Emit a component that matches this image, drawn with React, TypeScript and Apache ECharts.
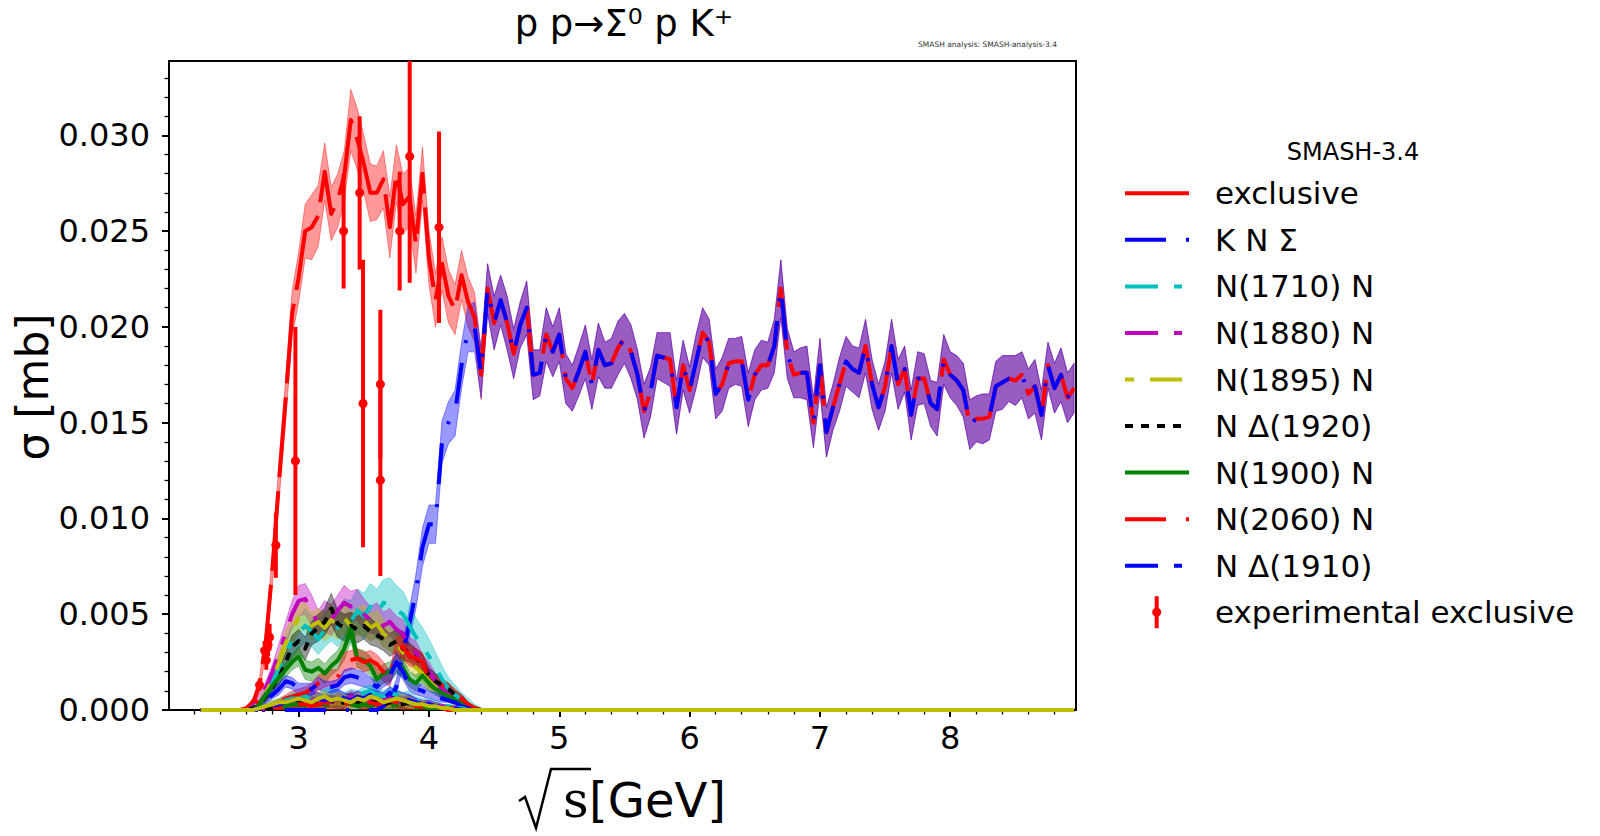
import React, { useEffect, useRef } from "react";
import * as echarts from "echarts";

// ---------- DATA ----------
const energyLow = [2.25, 2.30, 2.35, 2.40, 2.45, 2.50, 2.55, 2.60, 2.65, 2.70, 2.75, 2.80, 2.85, 2.90, 2.95, 3.00, 3.05, 3.10, 3.15, 3.20, 3.25, 3.30, 3.35, 3.40, 3.45, 3.50, 3.55, 3.60, 3.65, 3.70, 3.75, 3.80, 3.85, 3.90, 3.95, 4.00, 4.05, 4.10, 4.15, 4.20, 4.25, 4.30, 4.35, 4.40];
const energyHigh = [
  4.45, 4.50, 4.55, 4.60, 4.65, 4.70, 4.75, 4.80, 4.85, 4.90,
  4.95, 5.00, 5.05, 5.10, 5.15, 5.20, 5.25, 5.30, 5.35, 5.40,
  5.45, 5.50, 5.55, 5.60, 5.65, 5.70, 5.75, 5.80, 5.85, 5.90,
  5.95, 6.00, 6.05, 6.10, 6.15, 6.20, 6.25, 6.30, 6.35, 6.40,
  6.45, 6.50, 6.55, 6.60, 6.65, 6.70, 6.75, 6.80, 6.85, 6.90,
  6.95, 7.00, 7.05, 7.10, 7.15, 7.20, 7.25, 7.30, 7.35, 7.40,
  7.45, 7.50, 7.55, 7.60, 7.65, 7.70, 7.75, 7.80, 7.85, 7.90,
  7.95, 8.00, 8.05, 8.10, 8.15, 8.20, 8.25, 8.30, 8.35, 8.40,
  8.45, 8.50, 8.55, 8.60, 8.65, 8.70, 8.75, 8.80, 8.85, 8.90,
  8.95,
];

const exclusiveLow = [0, 0, 0, 0, 0, 0, 0,
  0.0001, 0.0004, 0.0013, 0.0037, 0.0075, 0.0120, 0.0162, 0.0207, 0.0226, 0.0250,
  0.0252, 0.0258, 0.0281, 0.0259, 0.0266, 0.0279, 0.0308, 0.0298, 0.0285, 0.0270,
  0.0270, 0.0277, 0.0252, 0.0280, 0.0264, 0.0268, 0.0243, 0.0280, 0.0236, 0.0214,
  0.0233, 0.0216, 0.0209, 0.0227, 0.0213, 0.0205, 0.0175];
const exclusiveLowErr = [0, 0, 0, 0, 0, 0, 0,
  0.0001, 0.0002, 0.0004, 0.0006, 0.0008, 0.0010, 0.0011, 0.0012, 0.0013, 0.0014,
  0.0017, 0.0016, 0.0015, 0.0014, 0.0014, 0.0013, 0.0016, 0.0016, 0.0015, 0.0015,
  0.0014, 0.0015, 0.0016, 0.0015, 0.0016, 0.0015, 0.0015, 0.0014, 0.0014, 0.0014,
  0.0014, 0.0014, 0.0013, 0.0013, 0.0013, 0.0013, 0.0013];
const knSigmaLow = [0, 0, 0, 0, 0, 0, 0, 0, 0, 0, 0, 0, 0, 0, 0, 0, 0, 0, 0, 0, 0, 0, 0, 0, 0, 0, 0, 0,
  0.0002, 0.0005, 0.0012, 0.0030, 0.0045, 0.0062, 0.0085, 0.0097, 0.0097, 0.0140,
  0.0150, 0.0155, 0.0180, 0.0199, 0.0200, 0.0176];
const knSigmaLowErr = [0, 0, 0, 0, 0, 0, 0, 0, 0, 0, 0, 0, 0, 0, 0, 0, 0, 0, 0, 0, 0, 0, 0, 0, 0, 0, 0, 0,
  0.0001, 0.0002, 0.0004, 0.0006, 0.0008, 0.0009, 0.0010, 0.0010, 0.0010, 0.0011,
  0.0011, 0.0012, 0.0012, 0.0012, 0.0013, 0.0013];
// above ~4.4 GeV the exclusive cross section equals the K N Sigma one
const sharedHigh = [
  0.0220, 0.0202, 0.0214, 0.0202, 0.0186, 0.0201, 0.0210, 0.0175, 0.0176, 0.0196,
  0.0187, 0.0196, 0.0173, 0.0168, 0.0177, 0.0187, 0.0170, 0.0188, 0.0180, 0.0181,
  0.0189, 0.0194, 0.0187, 0.0175, 0.0156, 0.0166, 0.0185, 0.0184, 0.0183, 0.0158,
  0.0180, 0.0167, 0.0182, 0.0197, 0.0192, 0.0165, 0.0170, 0.0181, 0.0182, 0.0182,
  0.0162, 0.0175, 0.0180, 0.0180, 0.0190, 0.0220, 0.0186, 0.0175, 0.0176, 0.0176,
  0.0150, 0.0180, 0.0145, 0.0158, 0.0170, 0.0182, 0.0178, 0.0176, 0.0190, 0.0170,
  0.0158, 0.0169, 0.0190, 0.0170, 0.0178, 0.0154, 0.0173, 0.0173, 0.0160, 0.0157,
  0.0183, 0.0175, 0.0172, 0.0167, 0.0149, 0.0152, 0.0152, 0.0153, 0.0169, 0.0171,
  0.0173, 0.0172, 0.0175, 0.0165, 0.0169, 0.0154, 0.0180, 0.0168, 0.0175, 0.0163,
  0.0168,
];
const sharedHighErr = [
  0.0013, 0.0014, 0.0013, 0.0014, 0.0013, 0.0012, 0.0014, 0.0013, 0.0012, 0.0014,
  0.0013, 0.0014, 0.0013, 0.0012, 0.0013, 0.0014, 0.0013, 0.0014, 0.0012, 0.0013,
  0.0014, 0.0013, 0.0014, 0.0013, 0.0014, 0.0013, 0.0012, 0.0013, 0.0014, 0.0014,
  0.0013, 0.0012, 0.0014, 0.0013, 0.0012, 0.0013, 0.0014, 0.0013, 0.0012, 0.0013,
  0.0014, 0.0013, 0.0013, 0.0012, 0.0014, 0.0015, 0.0013, 0.0012, 0.0013, 0.0014,
  0.0013, 0.0014, 0.0013, 0.0012, 0.0014, 0.0013, 0.0012, 0.0013, 0.0014, 0.0013,
  0.0012, 0.0013, 0.0014, 0.0013, 0.0012, 0.0013, 0.0014, 0.0013, 0.0012, 0.0014,
  0.0013, 0.0012, 0.0013, 0.0014, 0.0013, 0.0012, 0.0013, 0.0012, 0.0013, 0.0014,
  0.0012, 0.0013, 0.0012, 0.0013, 0.0014, 0.0013, 0.0012, 0.0013, 0.0014, 0.0013,
  0.0013,
];

// resonance channels: energies 2.25, 2.55 ... 4.50 (step 0.05), 8.95
const channelEnergy = [2.25, 2.55, 2.60, 2.65, 2.70, 2.75, 2.80, 2.85, 2.90, 2.95, 3.00, 3.05, 3.10, 3.15, 3.20, 3.25, 3.30, 3.35, 3.40, 3.45, 3.50, 3.55, 3.60, 3.65, 3.70, 3.75, 3.80, 3.85, 3.90, 3.95, 4.00, 4.05, 4.10, 4.15, 4.20, 4.25, 4.30, 4.35, 4.40, 4.45, 4.50, 8.95];

const n1710 = [0, 0, 0, .0001, .0004, .0009, .0015, .0022, .0030, .0036, .0040, .0044, .0041, .0037, .0042, .0045, .0043, .0048, .0046, .0052, .0049, .0054, .0050, .0056, .0055, .0052, .0050, .0044, .0038, .0033, .0028, .0022, .0016, .0011, .0008, .0005, .0003, .0001, 0, 0, 0, 0];
const n1710Err = [0, 0, 0, .0001, .0002, .0003, .0005, .0006, .0007, .0008, .0008, .0009, .0008, .0008, .0009, .0009, .0010, .0010, .0011, .0011, .0012, .0012, .0013, .0012, .0014, .0013, .0012, .0011, .0010, .0010, .0009, .0008, .0007, .0006, .0005, .0004, .0003, .0002, .0001, 0, 0, 0];
const n1880 = [0, 0, 0, .0002, .0006, .0012, .0020, .0030, .0040, .0050, .0057, .0058, .0052, .0045, .0049, .0047, .0052, .0056, .0054, .0055, .0050, .0047, .0048, .0044, .0046, .0042, .0040, .0032, .0030, .0024, .0020, .0015, .0011, .0008, .0005, .0003, .0002, .0001, 0, 0, 0, 0];
const n1880Err = [0, 0, 0, .0001, .0002, .0003, .0004, .0005, .0006, .0007, .0008, .0008, .0008, .0007, .0008, .0008, .0008, .0009, .0008, .0008, .0008, .0007, .0008, .0007, .0007, .0007, .0007, .0006, .0006, .0005, .0005, .0004, .0004, .0003, .0003, .0002, .0002, .0001, 0, 0, 0, 0];
const n1895 = [0, 0, 0, .0001, .0004, .0009, .0016, .0025, .0035, .0042, .0048, .0049, .0044, .0046, .0043, .0047, .0044, .0048, .0044, .0046, .0047, .0043, .0045, .0040, .0037, .0035, .0030, .0026, .0022, .0019, .0015, .0012, .0009, .0006, .0004, .0002, .0001, 0, 0, 0, 0, 0];
const n1895Err = [0, 0, 0, .0001, .0002, .0003, .0004, .0005, .0006, .0007, .0007, .0007, .0007, .0007, .0007, .0008, .0007, .0008, .0007, .0007, .0008, .0007, .0007, .0007, .0006, .0006, .0006, .0005, .0005, .0004, .0004, .0003, .0003, .0002, .0002, .0001, .0001, 0, 0, 0, 0, 0];
const nD1920 = [0, 0, 0, .0001, .0003, .0007, .0012, .0017, .0025, .0033, .0036, .0032, .0040, .0043, .0046, .0053, .0045, .0043, .0044, .0042, .0044, .0041, .0039, .0037, .0034, .0036, .0032, .0030, .0027, .0024, .0018, .0015, .0013, .0011, .0008, .0006, .0003, .0001, 0, 0, 0, 0];
const nD1920Err = [0, 0, 0, .0001, .0002, .0003, .0004, .0004, .0005, .0006, .0006, .0006, .0006, .0007, .0007, .0008, .0007, .0007, .0007, .0007, .0007, .0007, .0006, .0006, .0006, .0006, .0006, .0005, .0005, .0005, .0004, .0004, .0003, .0003, .0002, .0002, .0001, .0001, 0, 0, 0, 0];
const n1900 = [0, 0, 0, 0, .0003, .0008, .0013, .0017, .0021, .0025, .0028, .0021, .0020, .0022, .0019, .0023, .0026, .0032, .0042, .0027, .0026, .0023, .0016, .0019, .0020, .0024, .0022, .0016, .0014, .0018, .0014, .0011, .0009, .0007, .0005, .0003, .0001, 0, 0, 0, 0, 0];
const n1900Err = [0, 0, 0, 0, .0001, .0002, .0003, .0003, .0004, .0004, .0005, .0005, .0005, .0005, .0005, .0005, .0005, .0006, .0006, .0005, .0005, .0005, .0005, .0005, .0005, .0005, .0005, .0004, .0004, .0004, .0004, .0003, .0003, .0002, .0002, .0001, .0001, 0, 0, 0, 0, 0];
const n2060 = [0, 0, 0, 0, 0, .0001, .0002, .0004, .0006, .0007, .0008, .0009, .0011, .0014, .0016, .0017, .0017, .0025, .0026, .0027, .0025, .0026, .0024, .0020, .0016, .0032, .0033, .0028, .0027, .0025, .0016, .0014, .0013, .0011, .0009, .0006, .0003, .0001, 0, 0, 0, 0];
const n2060Err = [0, 0, 0, 0, 0, .0001, .0001, .0002, .0002, .0003, .0003, .0003, .0003, .0004, .0004, .0004, .0004, .0005, .0005, .0005, .0005, .0005, .0005, .0005, .0004, .0006, .0006, .0005, .0005, .0005, .0004, .0004, .0003, .0003, .0002, .0002, .0001, .0001, 0, 0, 0, 0];
const nD1910 = [0, 0, 0, 0, .0002, .0005, .0008, .0011, .0015, .0014, .0011, .0011, .0011, .0014, .0012, .0012, .0013, .0017, .0018, .0017, .0016, .0014, .0012, .0016, .0018, .0025, .0020, .0013, .0011, .0010, .0008, .0007, .0006, .0005, .0004, .0002, .0001, 0, 0, 0, 0, 0];
const nD1910Err = [0, 0, 0, 0, .0001, .0002, .0002, .0003, .0003, .0003, .0003, .0003, .0003, .0003, .0003, .0003, .0003, .0004, .0004, .0004, .0004, .0003, .0003, .0004, .0004, .0005, .0004, .0003, .0003, .0003, .0002, .0002, .0002, .0001, .0001, .0001, .0001, 0, 0, 0, 0, 0];

// smaller channels that are not listed in the legend
const minorA = [0, 0, 0, 0, .0001, .0002, .0003, .0004, .0005, .0006, .0006, .0007, .0005, .0006, .0008, .0009, .0007, .0006, .0008, .0007, .0009, .0010, .0008, .0007, .0009, .0008, .0006, .0007, .0005, .0004, .0004, .0003, .0002, .0002, .0001, .0001, 0, 0, 0, 0, 0, 0];
const minorB = [0, 0, 0, 0, .0001, .0001, .0002, .0003, .0003, .0004, .0005, .0004, .0005, .0006, .0005, .0004, .0006, .0005, .0007, .0006, .0005, .0006, .0004, .0005, .0006, .0005, .0004, .0005, .0004, .0003, .0003, .0002, .0002, .0001, .0001, 0, 0, 0, 0, 0, 0, 0];
const minorC = [0, 0, 0, 0, 0, .0001, .0001, .0002, .0003, .0003, .0004, .0005, .0004, .0003, .0004, .0005, .0003, .0004, .0006, .0004, .0003, .0004, .0005, .0003, .0004, .0003, .0003, .0004, .0002, .0002, .0002, .0001, .0001, .0001, 0, 0, 0, 0, 0, 0, 0, 0];
const minorD = [0, 0, 0, 0, 0, .0001, .0001, .0002, .0002, .0003, .0003, .0002, .0003, .0004, .0003, .0002, .0003, .0004, .0003, .0002, .0003, .0002, .0003, .0002, .0002, .0003, .0002, .0002, .0001, .0002, .0001, .0001, .0001, 0, 0, 0, 0, 0, 0, 0, 0, 0];
const minorF = [0, 0, 0, 0, 0, 0, .0001, .0001, .0002, .0002, .0003, .0003, .0002, .0003, .0004, .0003, .0002, .0003, .0004, .0005, .0003, .0004, .0003, .0004, .0005, .0004, .0003, .0003, .0002, .0002, .0002, .0001, .0001, 0, 0, 0, 0, 0, 0, 0, 0, 0];
const minorG = [0, 0, 0, 0, 0, .0001, .0002, .0003, .0004, .0005, .0006, .0005, .0007, .0006, .0005, .0007, .0008, .0006, .0005, .0007, .0006, .0008, .0007, .0006, .0009, .0007, .0006, .0005, .0004, .0003, .0003, .0002, .0002, .0001, .0001, 0, 0, 0, 0, 0, 0, 0];
const minorE = [0, 0, 0, 0, .0001, .0002, .0003, .0004, .0004, .0005, .0006, .0005, .0004, .0006, .0007, .0005, .0006, .0005, .0004, .0006, .0005, .0007, .0006, .0004, .0005, .0006, .0005, .0004, .0003, .0003, .0002, .0002, .0001, .0001, 0, 0, 0, 0, 0, 0, 0, 0];
const minorErr = [0, 0, 0, 0, .0001, .0001, .0002, .0002, .0002, .0003, .0003, .0003, .0003, .0003, .0003, .0003, .0003, .0003, .0003, .0003, .0003, .0003, .0003, .0003, .0003, .0003, .0003, .0003, .0002, .0002, .0002, .0002, .0001, .0001, .0001, .0001, 0, 0, 0, 0, 0, 0];

// experimental exclusive data
const expEnergy = [2.662, 2.700, 2.739, 2.752, 2.765, 2.777, 2.825, 2.975, 3.345, 3.468, 3.494, 3.627, 3.627, 3.775, 3.852, 4.077];
const expSigma = [0.00035, 0.0013, 0.0031, 0.0026, 0.0034, 0.0038, 0.0086, 0.0130, 0.0250, 0.0270, 0.0160, 0.0170, 0.0120, 0.0250, 0.0289, 0.0252];
const expError = [0.0002, 0.0003, 0.0005, 0.0005, 0.0006, 0.0007, 0.0017, 0.0070, 0.0030, 0.0040, 0.0075, 0.0039, 0.0050, 0.0031, 0.0066, 0.0050];

// ticks
const xMajorTicks = [3, 4, 5, 6, 7, 8];
const xMinorTicks = [2.2, 2.4, 2.6, 2.8, 3.2, 3.4, 3.6, 3.8, 4.2, 4.4, 4.6, 4.8, 5.2, 5.4, 5.6, 5.8, 6.2, 6.4, 6.6, 6.8, 7.2, 7.4, 7.6, 7.8, 8.2, 8.4, 8.6, 8.8];
const yMajorTicks = [0, 0.005, 0.010, 0.015, 0.020, 0.025, 0.030];
const yMinorTicks = [0.001, 0.002, 0.003, 0.004, 0.006, 0.007, 0.008, 0.009, 0.011, 0.012, 0.013, 0.014, 0.016, 0.017, 0.018, 0.019, 0.021, 0.022, 0.023, 0.024, 0.026, 0.027, 0.028, 0.029, 0.031, 0.032, 0.033];

// ---------- STYLES ----------
const FONT = "DejaVu Sans";
const RED = "#ff0000";
const BLUE = "#0000ff";
const CYAN = "#00bfbf";
const MAGENTA = "#bf00bf";
const OLIVE = "#bfbf00";
const BLACK = "#000000";
const GREEN = "#008000";
const DASH_EXCL = [80, 14];
const DASH_DOT = [41, 20, 3, 20];
const DASH_LS = [33, 16, 8, 16];
const DASH_SL = [9, 16, 32, 16];
const DASH_SHORT = [8, 8];

const X_MIN = 2.005;
const X_MAX = 8.965;
const Y_MAX = 0.03388;

function bandSeries(xs: number[], ys: number[], errs: number[], color: string): any {
  return {
    type: "custom",
    coordinateSystem: "cartesian2d",
    xAxisIndex: 0,
    yAxisIndex: 0,
    clip: true,
    silent: true,
    data: [[xs[0], ys[0]]],
    renderItem: (params: any, api: any) => {
      const up = xs.map((x, i) => api.coord([x, ys[i] + errs[i]]));
      const lo = xs.map((x, i) => api.coord([x, ys[i] - errs[i]])).reverse();
      return {
        type: "polygon",
        shape: { points: up.concat(lo) },
        style: { fill: color, stroke: color, lineWidth: 1, opacity: 0.4 },
      };
    },
  };
}

function lineSeries(xs: number[], ys: number[], color: string, dash: any): any {
  return {
    type: "line",
    xAxisIndex: 0,
    yAxisIndex: 0,
    data: xs.map((x, i) => [x, ys[i]]),
    showSymbol: false,
    symbol: "none",
    silent: true,
    clip: true,
    lineStyle: { color, width: 4, type: dash, cap: "butt", join: "round" },
  };
}

function buildOption(): any {
  const mainE = [...energyLow, ...energyHigh];
  const exclusiveAll = [...exclusiveLow, ...sharedHigh];
  const exclusiveErrAll = [...exclusiveLowErr, ...sharedHighErr];
  const knAll = [...knSigmaLow, ...sharedHigh];
  const knErrAll = [...knSigmaLowErr, ...sharedHighErr];

  const channels = [
    { values: n1710, err: n1710Err, color: CYAN, dash: DASH_LS },
    { values: n1880, err: n1880Err, color: MAGENTA, dash: DASH_LS },
    { values: n1895, err: n1895Err, color: OLIVE, dash: DASH_SL },
    { values: nD1920, err: nD1920Err, color: BLACK, dash: DASH_SHORT },
    { values: n1900, err: n1900Err, color: GREEN, dash: "solid" },
    { values: n2060, err: n2060Err, color: RED, dash: DASH_DOT },
    { values: nD1910, err: nD1910Err, color: BLUE, dash: DASH_LS },
    { values: minorA, err: minorErr, color: CYAN, dash: DASH_DOT },
    { values: minorB, err: minorErr, color: MAGENTA, dash: "solid" },
    { values: minorC, err: minorErr, color: BLACK, dash: DASH_SHORT },
    { values: minorD, err: minorErr, color: GREEN, dash: DASH_LS },
    { values: minorF, err: minorErr, color: RED, dash: DASH_SL },
    { values: minorG, err: minorErr, color: BLUE, dash: DASH_LS },
    { values: minorE, err: minorErr, color: OLIVE, dash: "solid" },
  ];

  const series: any[] = [
    bandSeries(mainE, exclusiveAll, exclusiveErrAll, RED),
    lineSeries(mainE, exclusiveAll, RED, DASH_EXCL),
    bandSeries(mainE, knAll, knErrAll, BLUE),
    lineSeries(mainE, knAll, BLUE, DASH_DOT),
  ];
  channels.forEach((c) => {
    series.push(bandSeries(channelEnergy, c.values, c.err, c.color));
    series.push(lineSeries(channelEnergy, c.values, c.color, c.dash));
  });
  series.push({
    type: "custom",
    coordinateSystem: "cartesian2d",
    xAxisIndex: 0,
    yAxisIndex: 0,
    clip: true,
    silent: true,
    data: expEnergy.map((x, i) => [x, expSigma[i], expError[i]]),
    renderItem: (params: any, api: any) => {
      const x = api.value(0);
      const y = api.value(1);
      const e = api.value(2);
      const p = api.coord([x, y]);
      const t = api.coord([x, y + e]);
      const b = api.coord([x, y - e]);
      return {
        type: "group",
        children: [
          { type: "line", shape: { x1: p[0], y1: t[1], x2: p[0], y2: b[1] }, style: { stroke: RED, lineWidth: 4 } },
          { type: "circle", shape: { cx: p[0], cy: p[1], r: 4.5 }, style: { fill: RED } },
        ],
      };
    },
  });

  // legend (drawn as graphics)
  const legendItems = [
    { label: "exclusive", color: RED, dash: null },
    { label: "K N Σ", color: BLUE, dash: DASH_DOT },
    { label: "N(1710) N", color: CYAN, dash: DASH_LS },
    { label: "N(1880) N", color: MAGENTA, dash: DASH_LS },
    { label: "N(1895) N", color: OLIVE, dash: DASH_SL },
    { label: "N Δ(1920)", color: BLACK, dash: DASH_SHORT },
    { label: "N(1900) N", color: GREEN, dash: null },
    { label: "N(2060) N", color: RED, dash: DASH_DOT },
    { label: "N Δ(1910)", color: BLUE, dash: DASH_LS },
  ];
  const rowY0 = 193.3;
  const rowStep = 46.55;
  const graphics: any[] = [];
  legendItems.forEach((it, i) => {
    const y = rowY0 + i * rowStep;
    const st: any = { stroke: it.color, lineWidth: 4, lineCap: "butt" };
    if (it.dash) st.lineDash = it.dash;
    graphics.push({ type: "line", z: 50, shape: { x1: 1125, y1: y, x2: 1189, y2: y }, style: st });
    graphics.push({
      type: "text", z: 50, x: 1215, y,
      style: { text: it.label, fontSize: 31, fontFamily: FONT, fill: "#000", align: "left", verticalAlign: "middle", textAlign: "left", textVerticalAlign: "middle" },
    });
  });
  const expY = rowY0 + 9 * rowStep;
  graphics.push({ type: "line", z: 50, shape: { x1: 1156.7, y1: expY - 16, x2: 1156.7, y2: expY + 16 }, style: { stroke: RED, lineWidth: 4 } });
  graphics.push({ type: "circle", z: 50, shape: { cx: 1156.7, cy: expY, r: 4.5 }, style: { fill: RED } });
  graphics.push({
    type: "text", z: 50, x: 1215, y: expY,
    style: { text: "experimental exclusive", fontSize: 31, fontFamily: FONT, fill: "#000", align: "left", verticalAlign: "middle", textAlign: "left", textVerticalAlign: "middle" },
  });
  graphics.push({
    type: "text", z: 50, x: 1353, y: 152,
    style: { text: "SMASH-3.4", fontSize: 24, fontFamily: FONT, fill: "#000", align: "center", verticalAlign: "middle", textAlign: "center", textVerticalAlign: "middle" },
  });
  // title
  graphics.push({
    type: "text", z: 50, x: 624, y: 23,
    style: { text: "p p→Σ⁰ p K⁺", fontSize: 37, fontFamily: FONT, fill: "#000", align: "center", verticalAlign: "middle", textAlign: "center", textVerticalAlign: "middle" },
  });
  graphics.push({
    type: "text", z: 50, x: 1057, y: 44,
    style: { text: "SMASH analysis: SMASH-analysis-3.4", fontSize: 7.5, fontFamily: FONT, fill: "#333", align: "right", verticalAlign: "middle", textAlign: "right", textVerticalAlign: "middle" },
  });
  // y axis name
  graphics.push({
    type: "text", z: 50, x: 32, y: 387, rotation: Math.PI / 2,
    style: { text: "σ [mb]", fontSize: 44, fontFamily: FONT, fill: "#000", align: "center", verticalAlign: "middle", textAlign: "center", textVerticalAlign: "middle" },
  });
  // x axis name: sqrt(s) [GeV]
  graphics.push({
    type: "polyline", z: 50,
    shape: { points: [[519, 801], [525, 797], [536, 828], [551, 769], [591, 769]] },
    style: { stroke: "#000", lineWidth: 2.5, fill: "none" },
  });
  graphics.push({
    type: "text", z: 50, x: 563, y: 800,
    style: { text: "s", fontSize: 50, fontFamily: "DejaVu Serif", fill: "#000", align: "left", verticalAlign: "middle", textAlign: "left", textVerticalAlign: "middle" },
  });
  graphics.push({
    type: "text", z: 50, x: 589, y: 800,
    style: { text: "[GeV]", fontSize: 48, fontFamily: FONT, fill: "#000", align: "left", verticalAlign: "middle", textAlign: "left", textVerticalAlign: "middle" },
  });

  return {
    animation: false,
    backgroundColor: "#ffffff",
    grid: { left: 169, top: 61, width: 907, height: 649, show: true, borderColor: "#000", borderWidth: 2, backgroundColor: "transparent" },
    xAxis: [
      {
        type: "value", gridIndex: 0, min: X_MIN, max: X_MAX, position: "bottom",
        axisLine: { show: false }, splitLine: { show: false },
        axisTick: { show: true, customValues: xMajorTicks, length: 7, lineStyle: { color: "#000", width: 2 } },
        axisLabel: { show: true, customValues: xMajorTicks, fontSize: 32, fontFamily: FONT, color: "#000", margin: 12 },
      },
      {
        type: "value", gridIndex: 0, min: X_MIN, max: X_MAX, position: "bottom",
        axisLine: { show: false }, splitLine: { show: false }, axisLabel: { show: false },
        axisTick: { show: true, customValues: xMinorTicks, length: 4.5, lineStyle: { color: "#000", width: 1.3 } },
      },
    ],
    yAxis: [
      {
        type: "value", gridIndex: 0, min: 0, max: Y_MAX, position: "left",
        axisLine: { show: false }, splitLine: { show: false },
        axisTick: { show: true, customValues: yMajorTicks, length: 7, lineStyle: { color: "#000", width: 2 } },
        axisLabel: { show: true, customValues: yMajorTicks, fontSize: 32, fontFamily: FONT, color: "#000", margin: 19, formatter: (v: number) => v.toFixed(3) },
      },
      {
        type: "value", gridIndex: 0, min: 0, max: Y_MAX, position: "left",
        axisLine: { show: false }, splitLine: { show: false }, axisLabel: { show: false },
        axisTick: { show: true, customValues: yMinorTicks, length: 4.5, lineStyle: { color: "#000", width: 1.3 } },
      },
    ],
    series,
    graphic: { elements: graphics },
  };
}

export default function App() {
  const ref = useRef<HTMLDivElement>(null);
  useEffect(() => {
    if (!ref.current) return;
    const chart = echarts.init(ref.current, null, { renderer: "svg" });
    chart.setOption(buildOption());
    return () => chart.dispose();
  }, []);
  return (
    <div
      ref={ref}
      style={{ position: "absolute", left: 0, top: 0, width: 1600, height: 836, background: "#fff" }}
    />
  );
}
